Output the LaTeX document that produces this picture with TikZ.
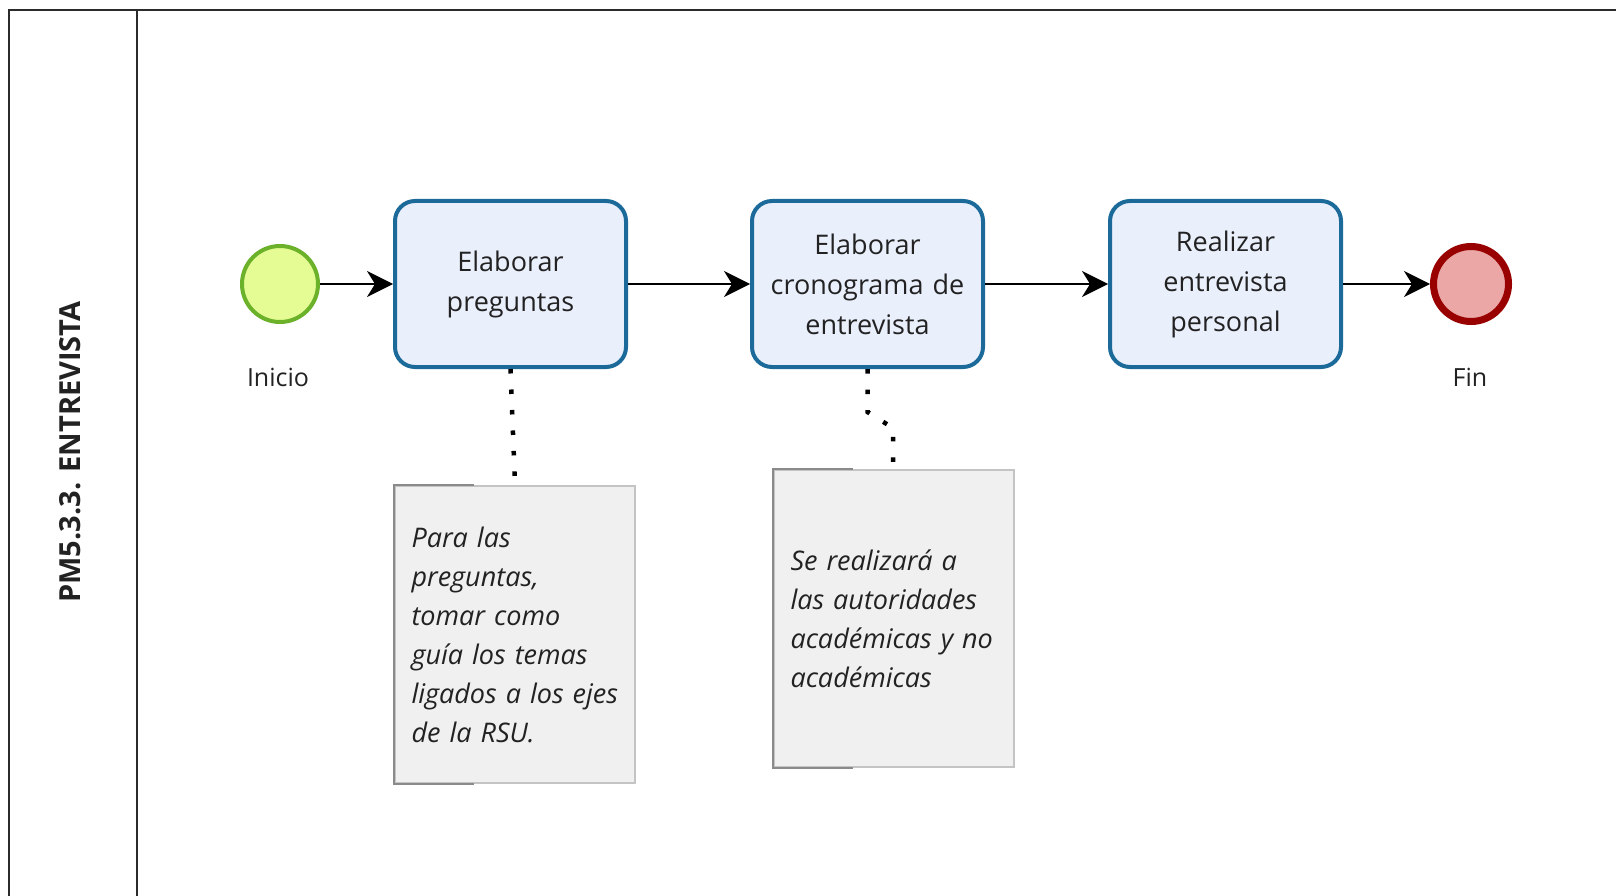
\documentclass[tikz,border=0pt]{standalone}
\usepackage{fontspec}
\setmainfont{Open Sans}
\usetikzlibrary{arrows.meta}
\definecolor{taskline}{HTML}{1B6A9A}
\definecolor{taskfill}{HTML}{EAEFFC}
\definecolor{startline}{HTML}{6BB22A}
\definecolor{startfill}{HTML}{E5FC94}
\definecolor{endline}{HTML}{990000}
\definecolor{endfill}{HTML}{EBA6A6}
\definecolor{notefill}{HTML}{F0F0F0}
\definecolor{noteline}{HTML}{C4C4C4}
\definecolor{notedark}{HTML}{8A8A8A}
\definecolor{lanecol}{HTML}{2B2B2B}
\definecolor{txt}{HTML}{222222}
\begin{document}
\begin{tikzpicture}[x=1pt,y=-1pt,
 task/.style={draw=taskline, fill=taskfill, line width=4pt, rounded corners=20pt,
   minimum width=231pt, minimum height=166pt, inner sep=0pt, align=center,
   text width=215pt, font=\fontsize{27}{40}\selectfont, text=txt},
 startev/.style={circle, draw=startline, fill=startfill, line width=4pt,
   minimum size=76pt, inner sep=0pt},
 endev/.style={circle, draw=endline, fill=endfill, line width=7pt,
   minimum size=75pt, inner sep=0pt},
 evlabel/.style={font=\fontsize{25}{30}\selectfont, text=txt},
 note/.style={draw=noteline, fill=notefill, line width=2pt, minimum width=240pt,
   minimum height=297pt, inner xsep=16.5pt, inner ysep=0pt, text width=207pt,
   align=left, font=\itshape\fontsize{27}{39}\selectfont, text=txt},
 bracket/.style={draw=notedark, line width=2.5pt},
 flow/.style={line width=2pt, -{Stealth[length=26pt,width=26pt,inset=8pt]}},
 assoc/.style={line width=4.5pt, dash pattern=on 4.5pt off 16pt},
 lane/.style={line width=2pt, draw=lanecol}]
\useasboundingbox (0,0) rectangle (1616,896);
\fill[white] (0,0) rectangle (1616,896);
% pool / lane
\draw[lane] (1616,10) -- (9,10) -- (9,896);
\draw[lane] (137,10) -- (137,896);
\node[rotate=90, font=\bfseries\fontsize{29}{32}\selectfont, text=txt] (lanelbl) at (70,452) {PM5.3.3. ENTREVISTA};
% events and tasks
\node[startev] (s) at (280,284) {};
\node[evlabel] (slbl) at (278,377) {Inicio};
\node[task] (t1) at (510.5,284) {Elaborar\\preguntas};
\node[task] (t2) at (867.5,284) {Elaborar\\cronograma de\\entrevista};
\node[task] (t3) at (1225.5,284) {Realizar\\entrevista\\personal};
\node[endev] (e) at (1471,284) {};
\node[evlabel] (elbl) at (1470,377) {Fin};
% flows
\draw[flow] (s) -- (t1);
\draw[flow] (t1) -- (t2);
\draw[flow] (t2) -- (t3);
\draw[flow] (t3) -- (e);
% annotations
\node[note] (n1) at (515,634.5) {Para las\\preguntas,\\tomar como\\guía los temas\\ligados a los ejes\\de la RSU.};
\node[note] (n2) at (894,618.5) {Se realizará a\\las autoridades\\académicas y no\\académicas};
\draw[bracket] ([xshift=80pt]n1.north west) -- (n1.north west) -- (n1.south west) -- ([xshift=80pt]n1.south west);
\draw[bracket] ([xshift=80pt]n2.north west) -- (n2.north west) -- (n2.south west) -- ([xshift=80pt]n2.south west);
% associations
\draw[assoc, shorten >=7pt] (t1.south) -- (n1.north);
\coordinate (a2) at (867.5,412);
\coordinate (b2) at (893,428);
\draw[assoc, shorten >=4pt] (t2.south) -- (a2) -- (b2) -- (n2.north -| b2);
\end{tikzpicture}
\end{document}
